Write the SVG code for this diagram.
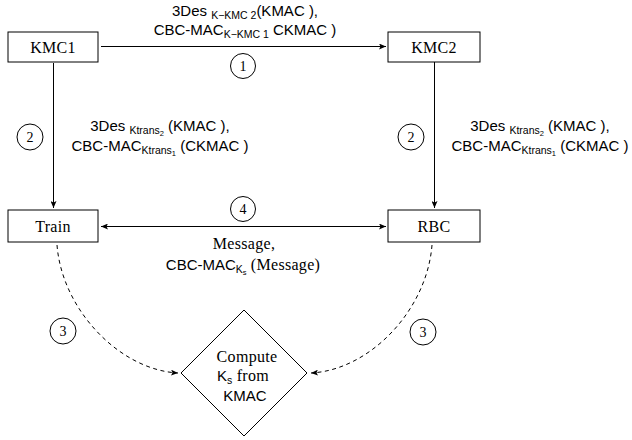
<svg xmlns="http://www.w3.org/2000/svg" width="632" height="440" viewBox="0 0 632 440">
<defs>
<marker id="ah" viewBox="0 0 7 6" refX="7" refY="3" markerWidth="7" markerHeight="6" markerUnits="userSpaceOnUse" orient="auto-start-reverse">
<path d="M0,0 L7,3 L0,6 L1.5,3 z" fill="#000"/>
</marker>
<style>
.box{fill:#fff;stroke:#000;stroke-width:1}
.ln{fill:none;stroke:#000;stroke-width:1}
.dash{fill:none;stroke:#000;stroke-width:1;stroke-dasharray:4 3.5}
.rm{font-family:"Liberation Serif",serif;font-size:16px;letter-spacing:0.3px;fill:#000}
.sf{font-family:"Liberation Sans",sans-serif;font-size:15px;letter-spacing:0;fill:#000}
.sub{font-size:10.5px}
.ss{font-size:7.5px}
.num{font-family:"Liberation Serif",serif;font-size:14px;text-anchor:middle;fill:#000}
.c{text-anchor:middle}
.circ{fill:#fff;stroke:#000;stroke-width:1}
</style>
</defs>

<g id="connectors">
<line class="ln" x1="101" y1="46.5" x2="386" y2="46.5" marker-end="url(#ah)"/>
<line class="ln" x1="53.5" y1="63" x2="53.5" y2="208" marker-end="url(#ah)"/>
<line class="ln" x1="434.5" y1="62" x2="434.5" y2="208" marker-end="url(#ah)"/>
<line class="ln" x1="101" y1="226.5" x2="386" y2="226.5" marker-start="url(#ah)" marker-end="url(#ah)"/>
<path class="dash" d="M57,245 C62,310 120,370 178,373" marker-end="url(#ah)"/>
<path class="dash" d="M432,245 C427,310 370,370 311,373" marker-end="url(#ah)"/>
</g>

<g id="label1">
<text class="sf c" x="245" y="16">3Des <tspan class="sub" dy="3">K−KMC 2</tspan><tspan dy="-3">(KMAC ),</tspan></text>
<text class="sf c" x="245" y="35">CBC-MAC<tspan class="sub" dy="3">K−KMC 1</tspan><tspan dy="-3"> CKMAC )</tspan></text>
</g>
<g id="label2left">
<text class="sf c" x="160" y="131">3Des <tspan class="sub" dy="3">Ktrans</tspan><tspan class="ss" dy="1.5">2</tspan><tspan dy="-4.5"> (KMAC ),</tspan></text>
<text class="sf c" x="160" y="151">CBC-MAC<tspan class="sub" dy="3">Ktrans</tspan><tspan class="ss" dy="1.5">1</tspan><tspan dy="-4.5">  (CKMAC )</tspan></text>
</g>
<g id="label2right">
<text class="sf c" x="540" y="131">3Des <tspan class="sub" dy="3">Ktrans</tspan><tspan class="ss" dy="1.5">2</tspan><tspan dy="-4.5"> (KMAC ),</tspan></text>
<text class="sf c" x="540" y="151">CBC-MAC<tspan class="sub" dy="3">Ktrans</tspan><tspan class="ss" dy="1.5">1</tspan><tspan dy="-4.5">  (CKMAC )</tspan></text>
</g>
<g id="label4">
<text class="rm c" x="244" y="249">Message,</text>
<text class="sf c" x="243" y="270">CBC-MAC<tspan class="sub" dy="3">K</tspan><tspan class="ss" dy="1.5">s</tspan><tspan class="rm" dy="-4.5"> (Message)</tspan></text>
</g>

<g id="step1"><circle class="circ" cx="243" cy="66" r="12.5"/><text class="num" x="243" y="71">1</text></g>
<g id="step2a"><circle class="circ" cx="30" cy="137" r="13"/><text class="num" x="30" y="142">2</text></g>
<g id="step2b"><circle class="circ" cx="411" cy="137" r="13"/><text class="num" x="411" y="142">2</text></g>
<g id="step4"><circle class="circ" cx="243" cy="209" r="12.5"/><text class="num" x="243" y="214">4</text></g>
<g id="step3a"><circle class="circ" cx="63" cy="331" r="13"/><text class="num" x="63" y="336">3</text></g>
<g id="step3b"><circle class="circ" cx="423" cy="332" r="13"/><text class="num" x="423" y="337">3</text></g>

<g id="KMC1"><rect class="box" x="8" y="32" width="90" height="30"/><text class="rm c" x="53" y="52.5">KMC1</text></g>
<g id="KMC2"><rect class="box" x="388" y="32" width="92" height="30"/><text class="rm c" x="434" y="52.5">KMC2</text></g>
<g id="Train"><rect class="box" x="8" y="210" width="90" height="32"/><text class="rm c" x="53" y="231.5">Train</text></g>
<g id="RBC"><rect class="box" x="388" y="210" width="92" height="32"/><text class="rm c" x="434" y="231.5">RBC</text></g>
<g id="Compute"><polygon class="box" points="244,310 307,373 244,436 181,373"/>
<text class="rm c" x="247" y="362">Compute</text>
<text class="rm c" x="243" y="381"><tspan class="sf">K</tspan><tspan class="sf sub" dy="3">s</tspan><tspan dy="-3"> from</tspan></text>
<text class="sf c" x="245" y="401">KMAC</text>
</g>
</svg>
